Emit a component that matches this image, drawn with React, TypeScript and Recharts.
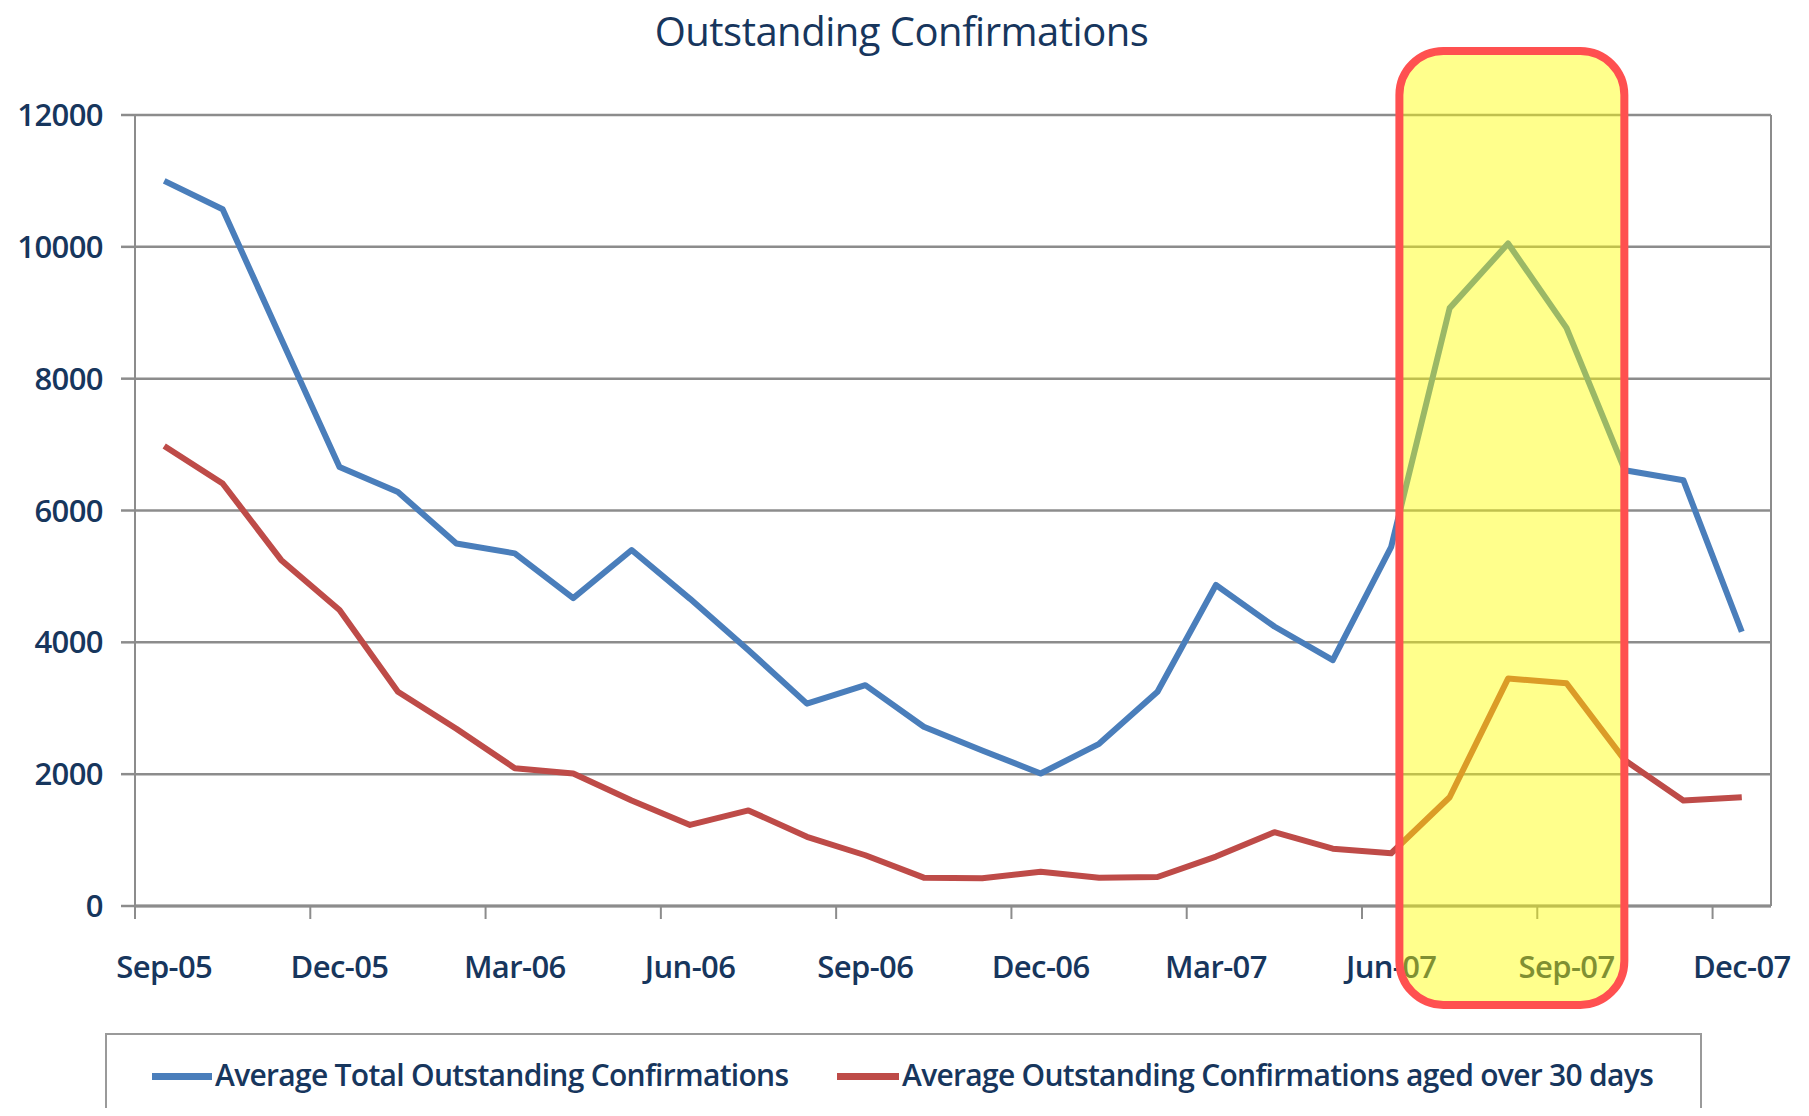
import React from 'react';
import { LineChart, Line, XAxis, YAxis, CartesianGrid, ReferenceArea, Legend } from 'recharts';

const months = [
  'Sep-05', 'Oct-05', 'Nov-05', 'Dec-05', 'Jan-06', 'Feb-06', 'Mar-06', 'Apr-06', 'May-06', 'Jun-06',
  'Jul-06', 'Aug-06', 'Sep-06', 'Oct-06', 'Nov-06', 'Dec-06', 'Jan-07', 'Feb-07', 'Mar-07', 'Apr-07',
  'May-07', 'Jun-07', 'Jul-07', 'Aug-07', 'Sep-07', 'Oct-07', 'Nov-07', 'Dec-07',
];
const totalOutstanding = [
  11000, 10570, 8610, 6660, 6280, 5500, 5350, 4670, 5400, 4660,
  3880, 3070, 3350, 2720, 2360, 2010, 2460, 3250, 4870, 4240,
  3730, 5450, 9070, 10050, 8770, 6610, 6460, 4160,
];
const agedOver30 = [
  6980, 6410, 5250, 4490, 3250, 2690, 2090, 2010, 1600, 1230,
  1450, 1050, 770, 430, 420, 520, 430, 440, 750, 1120,
  870, 800, 1650, 3450, 3380, 2210, 1600, 1650,
];
const yTicks = [0, 2000, 4000, 6000, 8000, 10000, 12000];
const labelStep = 3;
// highlighted period (in month-index units and value units)
const highlightX = [21.14, 24.99];
const highlightY = [-1500, 12970];

const seriesNames = [
  'Average Total Outstanding Confirmations',
  'Average Outstanding Confirmations aged over 30 days',
];

const rows = months.map((m, i) => ({ idx: i, month: m, total: totalOutstanding[i], aged: agedOver30[i] }));

const xTicks: number[] = [];
for (let i = 0; i < months.length; i += labelStep) {
  xTicks.push(i - 0.5);
  xTicks.push(i);
}

const NAVY = '#17365d';
const GRID = '#8c8c8c';
const FONT = '"Open Sans", sans-serif';

const XTick = (props: any) => {
  const { x, y, payload } = props;
  const v = payload.value;
  if (Number.isInteger(v)) {
    return (
      <text x={x} y={y + 72} textAnchor="middle" fill={NAVY} fontSize={31} fontWeight={600} fontFamily={FONT} letterSpacing={-0.6}>
        {months[v]}
      </text>
    );
  }
  return <line x1={x} x2={x} y1={y} y2={y + 13} stroke={GRID} strokeWidth={2} />;
};

const legendPos = [
  { line: 45, lineW: 60, text: 108 },
  { line: 730, lineW: 62, text: 795 },
];

const renderLegend = (props: any) => {
  const payload = props.payload || [];
  const ordered = seriesNames.map((n) => payload.find((p: any) => p.value === n)).filter(Boolean);
  return (
    <div
      style={{
        position: 'relative',
        width: 1597,
        height: 75,
        boxSizing: 'border-box',
        borderTop: '2px solid #9a9a9a',
        borderLeft: '2px solid #9a9a9a',
        borderRight: '2px solid #9a9a9a',
        fontFamily: FONT,
      }}
    >
      {ordered.map((p: any, i: number) => (
        <React.Fragment key={i}>
          <div
            style={{
              position: 'absolute',
              left: legendPos[i].line,
              top: 38,
              width: legendPos[i].lineW,
              height: 7,
              background: p.color,
            }}
          />
          <div
            style={{
              position: 'absolute',
              left: legendPos[i].text,
              top: 20,
              lineHeight: '40px',
              fontSize: 30,
              fontWeight: 600,
              letterSpacing: -0.7,
              color: NAVY,
              whiteSpace: 'nowrap',
            }}
          >
            {p.value}
          </div>
        </React.Fragment>
      ))}
    </div>
  );
};

const HighlightShape = (p: any) => (
  <rect
    x={p.x}
    y={p.y}
    width={p.width}
    height={p.height}
    rx={44}
    ry={44}
    fill="#ffff00"
    fillOpacity={0.45}
    stroke="#ff5050"
    strokeWidth={8}
  />
);

export default function App() {
  return (
    <div style={{ position: 'relative', width: 1793, height: 1100, background: '#fff' }}>
      <div
        style={{
          position: 'absolute',
          top: 3,
          left: 0,
          width: 1787,
          textAlign: 'center',
          fontFamily: FONT,
          fontSize: 40,
          lineHeight: '40px',
          letterSpacing: -0.5,
          color: NAVY,
        }}
      >
        Outstanding Confirmations
      </div>
      <LineChart
        width={1793}
        height={1100}
        data={rows}
        margin={{ top: 107, right: 29, bottom: 142, left: 0 }}
      >
        <CartesianGrid horizontal vertical={false} stroke={GRID} strokeWidth={2.5} />
        <XAxis
          type="number"
          dataKey="idx"
          domain={[-0.5, 27.5]}
          ticks={xTicks}
          interval={0}
          tickSize={0}
          tickMargin={0}
          tickLine={false}
          axisLine={{ stroke: GRID, strokeWidth: 3 }}
          height={60}
          tick={(p: any) => <XTick {...p} />}
        />
        <YAxis
          domain={[0, 12000]}
          ticks={yTicks}
          interval={0}
          width={127}
          tickSize={14}
          tickMargin={18}
          tickLine={{ stroke: GRID, strokeWidth: 2.5 }}
          axisLine={{ stroke: GRID, strokeWidth: 2 }}
          tick={{ fill: NAVY, fontSize: 31, fontWeight: 600, fontFamily: FONT, letterSpacing: -0.6 }}
        />
        <YAxis
          yAxisId="right"
          orientation="right"
          domain={[0, 12000]}
          width={1}
          tick={false}
          tickLine={false}
          axisLine={{ stroke: GRID, strokeWidth: 2 }}
        />
        <Line
          type="linear"
          dataKey="total"
          name={seriesNames[0]}
          stroke="#4a7ebb"
          strokeWidth={6}
          strokeLinejoin="round"
          dot={false}
          isAnimationActive={false}
        />
        <Line
          type="linear"
          dataKey="aged"
          name={seriesNames[1]}
          stroke="#be4b48"
          strokeWidth={6}
          strokeLinejoin="round"
          dot={false}
          isAnimationActive={false}
        />
        <ReferenceArea
          x1={highlightX[0]}
          x2={highlightX[1]}
          y1={highlightY[0]}
          y2={highlightY[1]}
          ifOverflow="visible"
          zIndex={3000}
          shape={(p: any) => <HighlightShape {...p} />}
        />
        <Legend
          layout="horizontal"
          verticalAlign="middle"
          align="center"
          wrapperStyle={{ top: 1025, left: 97, width: 1597, height: 75 }}
          content={renderLegend}
        />
      </LineChart>
    </div>
  );
}
